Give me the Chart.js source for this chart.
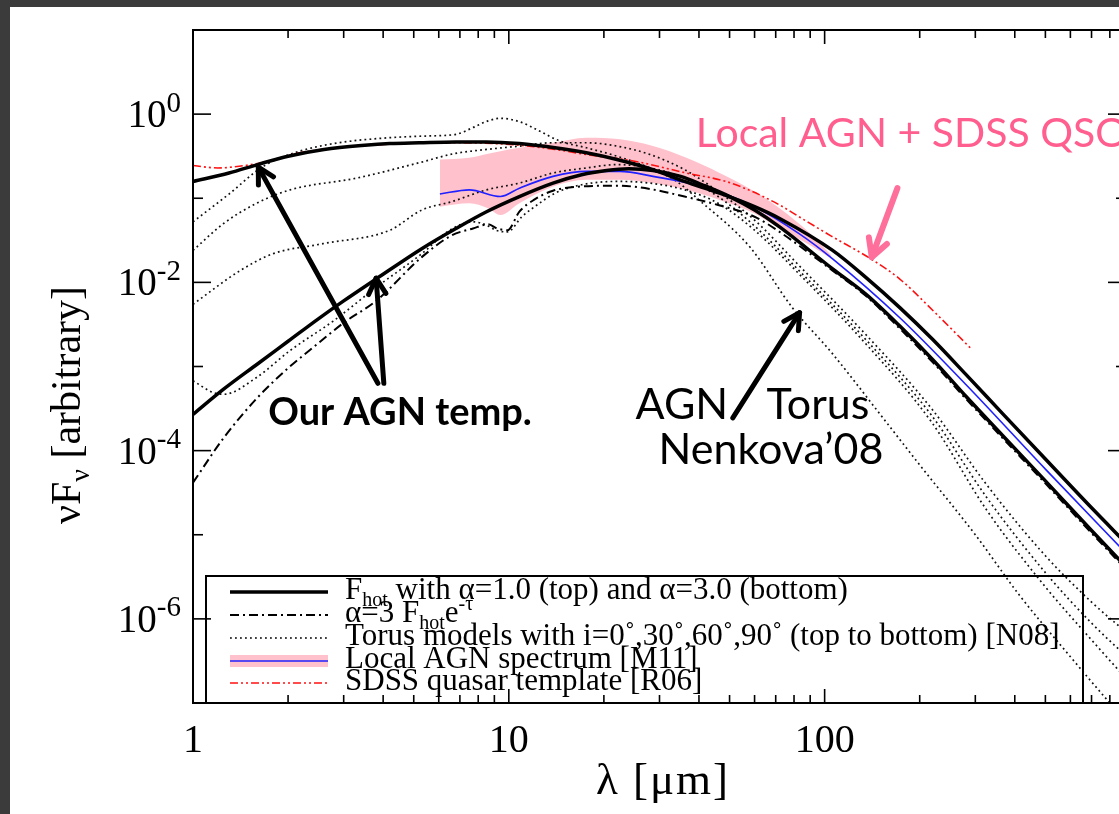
<!DOCTYPE html>
<html>
<head>
<meta charset="utf-8">
<script src="https://cdn.jsdelivr.net/npm/chart.js@4.4.1/dist/chart.umd.min.js"></script>
<style>
  html, body { margin: 0; padding: 0; background: #3b3b3b; overflow: hidden; width: 1119px; height: 814px; }
  #slide { position: absolute; left: 10px; top: 7px; right: 0; bottom: 0; background: #fff; }
  #wrap { position: absolute; left: 0; top: 0; width: 1160px; height: 814px; }
</style>
</head>
<body>
<div id="slide"></div>
<div id="wrap"><canvas id="sedChart" width="1160" height="814"></canvas></div>
<script>
// --- DATA : wavelength [micron], flux given as log10(nuFnu) ---
const hotTopLam = [1, 1.3, 1.6, 2, 2.6, 3.5, 4.2, 5.2, 6.8, 8.5, 10.8, 14, 17.6, 22, 28.6, 36, 46.5, 60, 72, 106, 135, 173, 220, 281, 366, 500, 700, 900];
const hotTopLog = [-0.80, -0.70, -0.60, -0.50, -0.42, -0.37, -0.35, -0.34, -0.33, -0.33, -0.35, -0.40, -0.46, -0.54, -0.66, -0.80, -0.94, -1.10, -1.24, -1.62, -1.94, -2.30, -2.68, -3.10, -3.56, -4.10, -4.68, -5.10];

const hotBotLam = [1, 1.25, 1.6, 2, 2.5, 3, 3.8, 5.3, 6.8, 8.5, 10.8, 13.8, 17, 20.4, 24, 28.6, 35, 41, 50, 60, 72, 106, 135, 173, 220, 281, 366, 500, 700, 900];
const hotBotLog = [-3.57, -3.27, -2.97, -2.70, -2.43, -2.22, -1.96, -1.60, -1.36, -1.16, -0.98, -0.82, -0.72, -0.67, -0.65, -0.67, -0.74, -0.84, -0.98, -1.14, -1.34, -1.84, -2.14, -2.52, -2.92, -3.36, -3.82, -4.36, -4.95, -5.38];

const absLam = [1, 1.25, 1.6, 2, 2.5, 3, 3.8, 5.3, 6.6, 7.7, 8.6, 9.2, 9.9, 10.8, 12, 13.8, 17, 22, 28, 36, 46, 60, 72, 106, 135, 173, 220, 281, 366, 500, 700, 900];
const absLog = [-4.38, -3.85, -3.37, -3.02, -2.72, -2.48, -2.22, -1.70, -1.44, -1.36, -1.31, -1.36, -1.38, -1.16, -1.02, -0.91, -0.86, -0.85, -0.89, -0.98, -1.08, -1.22, -1.40, -1.86, -2.16, -2.55, -2.95, -3.39, -3.85, -4.39, -4.98, -5.41];

const torus0Lam = [1, 1.3, 1.67, 2.18, 2.9, 4.2, 5.5, 6.8, 7.7, 8.6, 9.4, 10.8, 12.5, 14.5, 17.6, 22, 28, 34, 40, 58, 79, 106, 150, 200, 300, 414, 600, 800, 1000];
const torus0Log = [-1.28, -0.95, -0.62, -0.44, -0.34, -0.28, -0.26, -0.24, -0.16, -0.08, -0.05, -0.09, -0.20, -0.32, -0.40, -0.50, -0.64, -0.80, -1.02, -1.58, -2.30, -2.85, -3.57, -4.17, -5.00, -5.72, -6.45, -7.00, -7.40];

const torus30Lam = [1, 1.25, 1.59, 2.03, 3.3, 5.3, 6.7, 8.5, 10.8, 13.8, 17.6, 22, 28, 36, 46, 60, 83, 135, 218, 325, 500, 700, 1000];
const torus30Log = [-1.62, -1.30, -1.06, -0.90, -0.76, -0.57, -0.47, -0.42, -0.38, -0.34, -0.34, -0.38, -0.48, -0.66, -0.92, -1.26, -1.80, -2.62, -3.50, -4.40, -5.25, -5.80, -6.30];

const torus60Lam = [1, 1.41, 1.79, 2.58, 4.2, 5.3, 6.6, 8.5, 10.8, 13.8, 17.6, 22, 28, 36, 46, 60, 83, 135, 218, 325, 500, 700, 1000];
const torus60Log = [-2.26, -1.86, -1.66, -1.54, -1.38, -1.14, -1.04, -0.90, -0.82, -0.70, -0.64, -0.60, -0.64, -0.76, -0.98, -1.33, -1.86, -2.68, -3.58, -4.55, -5.45, -6.05, -6.60];

const torus90Lam = [1, 1.16, 1.25, 1.59, 2.03, 2.78, 3.8, 5.3, 6.5, 7.7, 8.5, 9.1, 9.9, 11, 12.5, 14, 17, 22, 28, 36, 46, 60, 83, 135, 218, 325, 500, 700, 1000];
const torus90Log = [-3.17, -3.31, -3.33, -3.13, -2.81, -2.46, -2.06, -1.66, -1.38, -1.28, -1.32, -1.38, -1.40, -1.22, -1.06, -0.94, -0.84, -0.80, -0.82, -0.90, -1.06, -1.38, -1.90, -2.73, -3.66, -4.70, -5.62, -6.25, -6.90];

const localLam = [6.05, 7.5, 9.4, 10.8, 13.8, 17.6, 22.5, 28.6, 41, 60, 83, 106, 173, 281, 500, 900];
const localLog = [-0.95, -0.90, -0.98, -0.88, -0.74, -0.68, -0.68, -0.74, -0.86, -1.10, -1.42, -1.72, -2.42, -3.22, -4.22, -5.22];

const bandLam = [6.05, 7.5, 8.6, 9.4, 10.8, 13.8, 17.6, 22.5, 28.6, 36.5, 46.5, 60, 72, 90, 105];
const bandHighLog = [-0.54, -0.52, -0.47, -0.44, -0.40, -0.34, -0.28, -0.30, -0.38, -0.52, -0.70, -0.92, -1.12, -1.42, -1.68];
const bandLowLog = [-1.10, -1.06, -1.12, -1.20, -1.06, -0.86, -0.78, -0.78, -0.82, -0.90, -1.02, -1.18, -1.36, -1.56, -1.72];

const qsoLam = [1, 1.1, 1.2, 1.4, 1.63, 2.18, 3, 4, 5.2, 7, 10.8, 14, 17.6, 25, 36.5, 48.7, 59, 72, 83, 105, 140, 173, 221, 293];
const qsoLog = [-0.61, -0.63, -0.64, -0.62, -0.58, -0.46, -0.39, -0.36, -0.34, -0.34, -0.37, -0.42, -0.48, -0.56, -0.70, -0.80, -0.92, -1.08, -1.22, -1.45, -1.72, -1.96, -2.34, -2.80];

// --- AXES ---
const xMin = 1, xMax = 900;
const yMinExp = -7, yMaxExp = 1;
const xTickVals = [1, 10, 100];
const xTickLabels = ['1', '10', '100'];
const yTickExps = [0, -2, -4, -6];

// --- ANNOTATIONS : [lambda, log10 flux] ---
const noteOurTemp = [1.73, -3.69];
const arrowOurTop = [[3.85, -3.20], [1.61, -0.63]];
const arrowOurBot = [[4.02, -3.20], [3.80, -1.95]];
const noteAgn = [25.2, -3.63];
const noteTorus = [65.5, -3.63];
const noteNenkova = [29.8, -4.16];
const arrowTorus = [[51.2, -3.61], [83.3, -2.36]];
const noteQso = [39.1, -0.39];
const arrowQso = [[170, -0.88], [141, -1.70]];

const pts = (lam, lg) => lam.map((l, i) => ({ x: l, y: Math.pow(10, lg[i]) }));

const DOT = [1.8, 3.2];
const DASHDOT = [9, 4, 2, 4];
const DASHDOTDOT = [8, 3, 2, 3, 2, 3];
const SERIF = '"Liberation Serif", "DejaVu Serif", serif';
const SANS = 'Lato, "Open Sans", sans-serif';
const PINK_TXT = '#ff5e8e';

function torusSet(lam, lg) {
  return { data: pts(lam, lg), borderColor: '#111', borderWidth: 1.7, borderDash: DOT, order: 5 };
}

const datasets = [
  { data: pts(hotTopLam, hotTopLog), borderColor: '#000', borderWidth: 3.5, order: 1 },
  { data: pts(hotBotLam, hotBotLog), borderColor: '#000', borderWidth: 3.5, order: 1 },
  { data: pts(absLam, absLog), borderColor: '#000', borderWidth: 2, borderDash: DASHDOT, order: 2 },
  torusSet(torus0Lam, torus0Log),
  torusSet(torus30Lam, torus30Log),
  torusSet(torus60Lam, torus60Log),
  torusSet(torus90Lam, torus90Log),
  { data: pts(localLam, localLog), borderColor: '#1f1fff', borderWidth: 1.6, order: 4 },
  { data: pts(bandLam, bandHighLog), borderWidth: 0, borderColor: 'rgba(0,0,0,0)', backgroundColor: '#ffc1cc', fill: '+1', order: 10 },
  { data: pts(bandLam, bandLowLog), borderWidth: 0, borderColor: 'rgba(0,0,0,0)', fill: false, order: 10 },
  { data: pts(qsoLam, qsoLog), borderColor: '#ff1010', borderWidth: 1.6, borderDash: DASHDOTDOT, order: 3 }
];

// --- drawing helpers ---
function seg(ctx, x1, y1, x2, y2) {
  ctx.beginPath(); ctx.moveTo(x1, y1); ctx.lineTo(x2, y2); ctx.stroke();
}

// parts: [[text, ''|'sub'|'sup'], ...]
function richText(ctx, x, y, parts, size, font, align, small) {
  const k = small || 0.66;
  const fontOf = m => (m ? Math.round(size * k) : size) + 'px ' + font;
  let w = 0;
  parts.forEach(([t, m]) => { ctx.font = fontOf(m); w += ctx.measureText(t).width; });
  let cx = align === 'right' ? x - w : align === 'center' ? x - w / 2 : x;
  ctx.textAlign = 'left';
  ctx.textBaseline = 'alphabetic';
  parts.forEach(([t, m]) => {
    ctx.font = fontOf(m);
    const dy = m === 'sub' ? size * 0.22 : m === 'sup' ? -size * 0.4 : 0;
    ctx.fillText(t, cx, y + dy);
    cx += ctx.measureText(t).width;
  });
}

function arrow(ctx, p0, p1, head) {
  const ang = Math.atan2(p1[1] - p0[1], p1[0] - p0[0]);
  seg(ctx, p0[0], p0[1], p1[0], p1[1]);
  ctx.beginPath();
  ctx.moveTo(p1[0] - head * Math.cos(ang - 0.5), p1[1] - head * Math.sin(ang - 0.5));
  ctx.lineTo(p1[0], p1[1]);
  ctx.lineTo(p1[0] - head * Math.cos(ang + 0.5), p1[1] - head * Math.sin(ang + 0.5));
  ctx.stroke();
}

const framePlugin = {
  id: 'frameAndNotes',
  afterDraw(chart) {
    const { ctx, chartArea: a, scales: { x, y } } = chart;
    const px = l => x.getPixelForValue(l);
    const py = lg => y.getPixelForValue(Math.pow(10, lg));
    const at = p => [px(p[0]), py(p[1])];
    ctx.save();

    // frame + inward ticks
    ctx.strokeStyle = '#000';
    ctx.lineWidth = 2;
    ctx.strokeRect(a.left, a.top, a.right - a.left, a.bottom - a.top);
    ctx.lineWidth = 1.6;
    for (let e = yMinExp; e <= yMaxExp; e++) {
      const yy = py(e);
      const len = e % 2 === 0 ? 18 : 10;
      seg(ctx, a.left, yy, a.left + len, yy);
      seg(ctx, a.right, yy, a.right - len, yy);
    }
    for (let d = 1; d <= 1000; d *= 10) {
      for (let m = 1; m <= 9; m++) {
        const v = d * m;
        if (v < xMin || v > xMax) continue;
        const xx = px(v);
        const len = m === 1 ? 14 : 8;
        seg(ctx, xx, a.bottom, xx, a.bottom - len);
        seg(ctx, xx, a.top, xx, a.top + len);
      }
    }

    // tick labels
    ctx.fillStyle = '#000';
    yTickExps.forEach(e => {
      richText(ctx, a.left - 12, py(e) + 13, [['10', ''], [e === 0 ? '0' : '-' + (-e), 'sup']], 39, SERIF, 'right', 0.74);
    });
    xTickVals.forEach((v, i) => {
      richText(ctx, px(v), a.bottom + 49, [[xTickLabels[i], '']], 40, SERIF, 'center');
    });

    // axis titles
    ctx.save();
    ctx.letterSpacing = '2px';
    richText(ctx, a.left + 470, a.bottom + 91, [['λ [μm]', '']], 45, SERIF, 'center');
    ctx.restore();
    ctx.save();
    ctx.translate(80, 405);
    ctx.rotate(-Math.PI / 2);
    richText(ctx, 0, 0, [['νF', ''], ['ν', 'sub'], [' [arbitrary]', '']], 42, SERIF, 'center');
    ctx.restore();

    // legend box
    const bx = a.left + 13, by = a.bottom - 127, bw = 877;
    ctx.lineWidth = 2;
    ctx.strokeRect(bx, by, bw, a.bottom - by);
    const rows = [
      { parts: [['F', ''], ['hot', 'sub'], [' with α=1.0 (top) and α=3.0 (bottom)', '']], style: 'solid' },
      { parts: [['α=3 F', ''], ['hot', 'sub'], ['e', ''], ['-τ', 'sup']], style: 'dashdot' },
      { parts: [['Torus models with i=0˚,30˚,60˚,90˚ (top to bottom) [N08]', '']], style: 'dot' },
      { parts: [['Local AGN spectrum [M11]', '']], style: 'band' },
      { parts: [['SDSS quasar template [R06]', '']], style: 'qso' }
    ];
    const rowBase = [104, 81, 58, 35, 13];
    rows.forEach((r, i) => {
      const base = a.bottom - rowBase[i];
      const ly = base - 7;
      const x0 = a.left + 37, x1 = a.left + 135;
      ctx.save();
      if (r.style === 'band') {
        ctx.fillStyle = '#ffc1cc';
        ctx.fillRect(x0, ly - 6, x1 - x0, 12);
      }
      ctx.strokeStyle = r.style === 'band' ? '#1f1fff' : r.style === 'qso' ? '#ff1010' : '#000';
      ctx.lineWidth = r.style === 'solid' ? 3.5 : r.style === 'dashdot' ? 2 : 1.6;
      ctx.setLineDash(r.style === 'dot' ? DOT : r.style === 'dashdot' ? DASHDOT : r.style === 'qso' ? DASHDOTDOT : []);
      seg(ctx, x0, ly, x1, ly);
      ctx.restore();
      richText(ctx, a.left + 152, base, r.parts, 31, SERIF, 'left');
    });

    // annotations
    ctx.fillStyle = '#000';
    ctx.font = 'bold 38px ' + SANS;
    ctx.textAlign = 'left';
    ctx.fillText('Our AGN temp.', px(noteOurTemp[0]), py(noteOurTemp[1]));
    ctx.font = '43px ' + SANS;
    ctx.fillText('AGN', px(noteAgn[0]), py(noteAgn[1]));
    ctx.fillText('Torus', px(noteTorus[0]), py(noteTorus[1]));
    ctx.fillText('Nenkova’08', px(noteNenkova[0]), py(noteNenkova[1]));
    ctx.strokeStyle = '#000';
    ctx.lineWidth = 5;
    ctx.lineCap = 'round';
    ctx.lineJoin = 'round';
    arrow(ctx, at(arrowOurTop[0]), at(arrowOurTop[1]), 18);
    arrow(ctx, at(arrowOurBot[0]), at(arrowOurBot[1]), 18);
    arrow(ctx, at(arrowTorus[0]), at(arrowTorus[1]), 18);

    ctx.fillStyle = PINK_TXT;
    ctx.font = '41px ' + SANS;
    ctx.fillText('Local AGN + SDSS QSO', px(noteQso[0]), py(noteQso[1]));
    ctx.strokeStyle = '#ff6f9c';
    ctx.lineWidth = 6;
    arrow(ctx, at(arrowQso[0]), at(arrowQso[1]), 20);
    ctx.restore();
  }
};

// --- CHART ---
const sedChart = new Chart(document.getElementById('sedChart').getContext('2d'), {
  type: 'line',
  data: { datasets: datasets },
  options: {
    responsive: false,
    animation: false,
    layout: { padding: { left: 193, right: 34, top: 30, bottom: 111 } },
    elements: {
      point: { radius: 0 },
      line: { cubicInterpolationMode: 'monotone', borderCapStyle: 'butt' }
    },
    plugins: { legend: { display: false }, tooltip: { enabled: false } },
    scales: {
      x: { type: 'logarithmic', min: xMin, max: xMax, display: false },
      y: { type: 'logarithmic', min: Math.pow(10, yMinExp), max: Math.pow(10, yMaxExp), display: false }
    }
  },
  plugins: [framePlugin]
});
</script>
</body>
</html>
